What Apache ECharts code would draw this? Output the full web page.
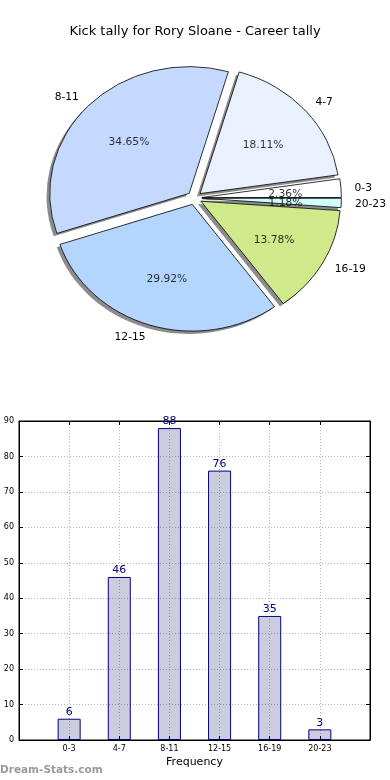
<!DOCTYPE html>
<html>
<head>
<meta charset="utf-8">
<script src="https://cdn.jsdelivr.net/npm/echarts@6/dist/echarts.min.js"></script>
<style>
html,body{margin:0;padding:0;background:#fff;}
#wrap{position:relative;width:390px;height:780px;overflow:hidden;}
#bars{position:absolute;left:0;top:0;width:390px;height:780px;}
#pie{position:absolute;left:0;top:0;width:390px;height:780px;transform-origin:194.5px 198px;transform:scale(1.049,0.953);}
</style>
</head>
<body>
<div id="wrap"><div id="bars"></div><div id="pie"></div></div>
<script>
const titleText = 'Kick tally for Rory Sloane - Career tally';
const categories = ['0-3', '4-7', '8-11', '12-15', '16-19', '20-23'];
const kicks = [6, 46, 88, 76, 35, 3];
const yTicksMax = 90;
const xAxisName = 'Frequency';
const watermark = 'Dream-Stats.com';

const pieColors = ['#ffffff', '#eaf1fe', '#c5d9fe', '#b4d5fe', '#cfe98b', '#d2fdfd'];
const FONT = 'DejaVu Sans';
const CX = 194.5, CY = 198, R = 133, OFF = 7;

const total = kicks.reduce((a, b) => a + b, 0);
let cum = 0;
const pctPoints = kicks.map(v => {
  const mid = cum + v / 2; cum += v;
  return [0.6 + OFF / R, mid, v / total * 100];
});

const pieData = categories.map((c, i) => ({
  name: c, value: kicks[i], selected: true,
  itemStyle: { color: pieColors[i] },
  select: { itemStyle: { color: pieColors[i], borderColor: '#000', borderWidth: 0.8 } }
}));
const shadowData = categories.map((c, i) => ({ name: c, value: kicks[i], selected: true }));

// ---- Pie (own layer, stretched to matplotlib's elliptical aspect) ----
const pie = echarts.init(document.getElementById('pie'), null, { renderer: 'svg' });
pie.setOption({
  animation: false,
  polar: { center: [CX, CY], radius: R },
  angleAxis: { type: 'value', min: 0, max: total, startAngle: 0, clockwise: false, show: false },
  radiusAxis: { type: 'value', min: 0, max: 1, show: false },
  series: [
    {
      type: 'pie', name: 'shadow', silent: true, z: 1,
      center: [CX - 3, CY + 3], radius: R, startAngle: 0, clockwise: false,
      selectedMode: 'multiple', selectedOffset: OFF,
      avoidLabelOverlap: false, label: { show: false }, labelLine: { show: false },
      itemStyle: { color: '#8c8c8c', borderWidth: 0 },
      select: { itemStyle: { color: '#8c8c8c', borderWidth: 0 } },
      emphasis: { disabled: true },
      data: shadowData
    },
    {
      type: 'pie', name: 'kicks', silent: true, z: 2,
      center: [CX, CY], radius: R, startAngle: 0, clockwise: false,
      selectedMode: 'multiple', selectedOffset: OFF,
      avoidLabelOverlap: false,
      itemStyle: { borderColor: '#000', borderWidth: 0.8 },
      label: { show: true, position: 'outside', formatter: '{b}', fontFamily: FONT, fontSize: 10.2, color: '#000', distanceToLabelLine: 0 },
      labelLine: { show: false, length: 13, length2: 0 },
      emphasis: { disabled: true },
      data: pieData
    },
    {
      type: 'scatter', coordinateSystem: 'polar', silent: true, z: 5,
      symbolSize: 1, itemStyle: { color: 'rgba(0,0,0,0)' },
      label: { show: true, position: 'inside', offset: [0, 1.5], fontFamily: FONT, fontSize: 10.2, color: '#000',
        formatter: p => p.value[2].toFixed(2) + '%' },
      emphasis: { disabled: true },
      data: pctPoints
    }
  ]
});

// ---- Title, bar chart, watermark ----
const bars = echarts.init(document.getElementById('bars'), null, { renderer: 'canvas' });
const tickAxisCommon = {
  axisLine: { show: true, onZero: false, lineStyle: { color: '#000', width: 1 } },
  axisTick: { show: true, inside: true, length: 4, lineStyle: { color: '#000' } }
};
bars.setOption({
  animation: false,
  backgroundColor: '#fff',
  title: {
    text: titleText, left: 'center', top: 20,
    textStyle: { fontFamily: FONT, fontSize: 13, fontWeight: 'normal', color: '#000' }
  },
  graphic: [{
    type: 'text', left: 0, top: 765,
    style: { text: watermark, fill: '#9a9a9a', font: 'bold 10.5px "DejaVu Sans"' }
  }],
  grid: [{ left: 19, right: 20, top: 421, bottom: 40, show: true, borderColor: '#000', borderWidth: 1, backgroundColor: 'transparent' }],
  xAxis: [Object.assign({
    type: 'value', min: -1, max: 6, interval: 1,
    name: xAxisName, nameLocation: 'middle', nameGap: 17,
    nameTextStyle: { fontFamily: FONT, fontSize: 11, color: '#000' },
    axisLabel: { fontFamily: FONT, fontSize: 8, color: '#000', margin: 5,
      formatter: v => (categories[v] !== undefined ? categories[v] : '') },
    splitLine: { show: true, lineStyle: { color: '#b8b8b8', type: [1, 2], width: 1 } }
  }, tickAxisCommon), Object.assign({
    type: 'value', min: -1, max: 6, interval: 1, position: 'top',
    axisLabel: { show: false }, splitLine: { show: false }
  }, tickAxisCommon)],
  yAxis: [Object.assign({
    type: 'value', min: 0, max: yTicksMax, interval: 10,
    axisLabel: { fontFamily: FONT, fontSize: 8, color: '#000', margin: 5 },
    splitLine: { show: true, lineStyle: { color: '#b8b8b8', type: [1, 2], width: 1 } }
  }, tickAxisCommon), Object.assign({
    type: 'value', min: 0, max: yTicksMax, interval: 10, position: 'right',
    axisLabel: { show: false }, splitLine: { show: false }
  }, tickAxisCommon)],
  series: [
    {
      type: 'bar', xAxisIndex: 0, yAxisIndex: 0, barWidth: 23,
      data: kicks.map((v, i) => [i, v]),
      itemStyle: { color: 'rgba(0,0,96,0.2)', borderColor: '#000080', borderWidth: 1 },
      label: { show: true, position: 'top', distance: 1, fontFamily: FONT, fontSize: 11, color: '#000080' },
      emphasis: { disabled: true }
    }
  ]
});
</script>
</body>
</html>
